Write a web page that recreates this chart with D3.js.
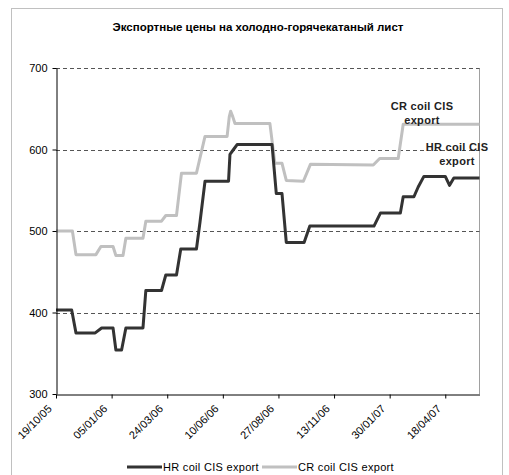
<!DOCTYPE html>
<html>
<head>
<meta charset="utf-8">
<script src="https://cdn.jsdelivr.net/npm/d3@7"></script>
<style>
  body { margin: 0; background: #fff; }
  text { font-family: "Liberation Sans", Arial, sans-serif; fill: #000; }
</style>
</head>
<body>
<script>
(function(){

//chart values
var title = "Экспортные цены на холодно-горячекатаный лист";
var seriesNames = ["HR coil CIS export", "CR coil CIS export"];
var hrDates = ["2005-10-19","2005-11-10","2005-11-16","2005-12-13","2005-12-22","2006-01-07","2006-01-11","2006-01-19","2006-01-25","2006-02-18","2006-02-22","2006-03-16","2006-03-22","2006-04-06","2006-04-12","2006-05-04","2006-05-09","2006-05-16","2006-06-18","2006-06-20","2006-06-25","2006-06-30","2006-08-18","2006-08-24","2006-09-01","2006-09-07","2006-10-02","2006-10-10","2007-01-08","2007-01-17","2007-02-14","2007-02-18","2007-03-05","2007-03-11","2007-03-19","2007-04-18","2007-04-24","2007-04-30","2007-06-05"];
var hrValues = [403,403,375,375,381,381,354,354,381,381,427,427,446,446,478,478,511,561,561,594,600,606,606,546,546,486,486,506,506,522,522,542,542,554,567,567,556,565,565];
var crDates = ["2005-10-19","2005-11-11","2005-11-16","2005-12-14","2005-12-21","2006-01-07","2006-01-11","2006-01-21","2006-01-25","2006-02-18","2006-02-22","2006-03-16","2006-03-22","2006-04-06","2006-04-13","2006-05-04","2006-05-16","2006-06-16","2006-06-19","2006-06-21","2006-06-24","2006-06-27","2006-08-15","2006-08-22","2006-09-01","2006-09-07","2006-10-01","2006-10-11","2007-01-07","2007-01-16","2007-02-11","2007-02-18","2007-06-05"];
var crValues = [500,500,471,471,481,481,470,470,491,491,512,512,519,519,571,571,616,616,640,647,640,632,632,583,583,562,561,582,581,589,589,631,631];
var yTicks = [300,400,500,600,700];
var xTickLabels = ["19/10/05","05/01/06","24/03/06","10/06/06","27/08/06","13/11/06","30/01/07","18/04/07"];

var width = 509,
    height = 475;

var parseIso = d3.timeParse("%Y-%m-%d"),
    parseTick = d3.timeParse("%d/%m/%y");

var svg = d3.select("body")
    .append("svg")
    .attr("width", width)
    .attr("height", height);

//chart area border
svg.append("rect")
    .attr("x", 11.5)
    .attr("y", 8.5)
    .attr("width", 491)
    .attr("height", 480)
    .attr("fill", "#fff")
    .attr("stroke", "#c0c0c0");

svg.append("text")
    .attr("x", 258)
    .attr("y", 31)
    .attr("text-anchor", "middle")
    .style("font-weight", "bold")
    .style("font-size", "11.5px")
    .text(title);

var x = d3.scaleTime()
    .domain([parseIso(hrDates[0]), parseIso(hrDates[hrDates.length - 1])])
    .range([56, 479.5]);

var y = d3.scaleLinear()
    .domain([300, 700])
    .range([394, 68]);

//plot area border (only the right side shows)
svg.append("line")
    .attr("x1", 479.5).attr("x2", 479.5)
    .attr("y1", y(700)).attr("y2", y(300))
    .attr("stroke", "#a0a0a0");

//dashed gridlines
svg.selectAll(".grid")
    .data(yTicks.slice(1))
    .enter()
    .append("line")
    .attr("class", "grid")
    .attr("x1", 56).attr("x2", 479.5)
    .attr("y1", function(d){ return Math.round(y(d)) + 0.5; })
    .attr("y2", function(d){ return Math.round(y(d)) + 0.5; })
    .attr("stroke", "#555")
    .attr("stroke-dasharray", "4,3");

var line = d3.line()
    .x(function(d){ return x(d.date); })
    .y(function(d){ return y(d.value); });

function toPoints(dates, values){
    return dates.map(function(d, i){ return {date: parseIso(d), value: values[i]}; });
}

svg.append("path")
    .datum(toPoints(crDates, crValues))
    .attr("fill", "none")
    .attr("stroke", "#c0c0c0")
    .attr("stroke-width", 3)
    .attr("stroke-linejoin", "round")
    .attr("d", line);

svg.append("path")
    .datum(toPoints(hrDates, hrValues))
    .attr("fill", "none")
    .attr("stroke", "#333")
    .attr("stroke-width", 3)
    .attr("stroke-linejoin", "round")
    .attr("d", line);

//y axis
var yAxis = svg.append("g")
    .attr("transform", "translate(56.5,0)")
    .call(d3.axisLeft(y).tickValues(yTicks).tickSize(4).tickSizeOuter(0));

yAxis.select(".domain").attr("stroke", "#000");
yAxis.selectAll("text")
    .style("font-size", "11px")
    .attr("x", -9);

//x axis
var xAxis = svg.append("g")
    .attr("transform", "translate(0," + (Math.round(y(300)) + 0.5) + ")")
    .call(d3.axisBottom(x)
        .tickValues(xTickLabels.map(parseTick))
        .tickFormat(d3.timeFormat("%d/%m/%y"))
        .tickSize(4)
        .tickSizeOuter(0));

xAxis.select(".domain").attr("stroke", "#000");
xAxis.selectAll("text")
    .style("font-size", "11px")
    .attr("text-anchor", "end")
    .attr("dy", null)
    .attr("y", 0)
    .attr("transform", "translate(-4,15) rotate(-45)");

//series labels on the chart
var seriesLabels = [
    {lines: ["CR coil CIS", "export"], x: 422, y: 110},
    {lines: ["HR coil CIS", "export"], x: 457, y: 151}
];
seriesLabels.forEach(function(s){
    s.lines.forEach(function(t, i){
        svg.append("text")
            .attr("x", s.x)
            .attr("y", s.y + i * 14)
            .attr("text-anchor", "middle")
            .style("font-size", "11px")
            .style("font-weight", "bold")
            .style("letter-spacing", "0.3px")
            .style("fill", "#222")
            .text(t);
    });
});

//legend
var legendColors = ["#333", "#c0c0c0"];
var legendX = [127, 262];
seriesNames.forEach(function(name, i){
    svg.append("line")
        .attr("x1", legendX[i]).attr("x2", legendX[i] + 35)
        .attr("y1", 467).attr("y2", 467)
        .attr("stroke", legendColors[i])
        .attr("stroke-width", 3);
    svg.append("text")
        .attr("x", legendX[i] + 36)
        .attr("y", 471)
        .style("font-size", "11px")
        .style("letter-spacing", "0.3px")
        .text(name);
});

})();
</script>
</body>
</html>
